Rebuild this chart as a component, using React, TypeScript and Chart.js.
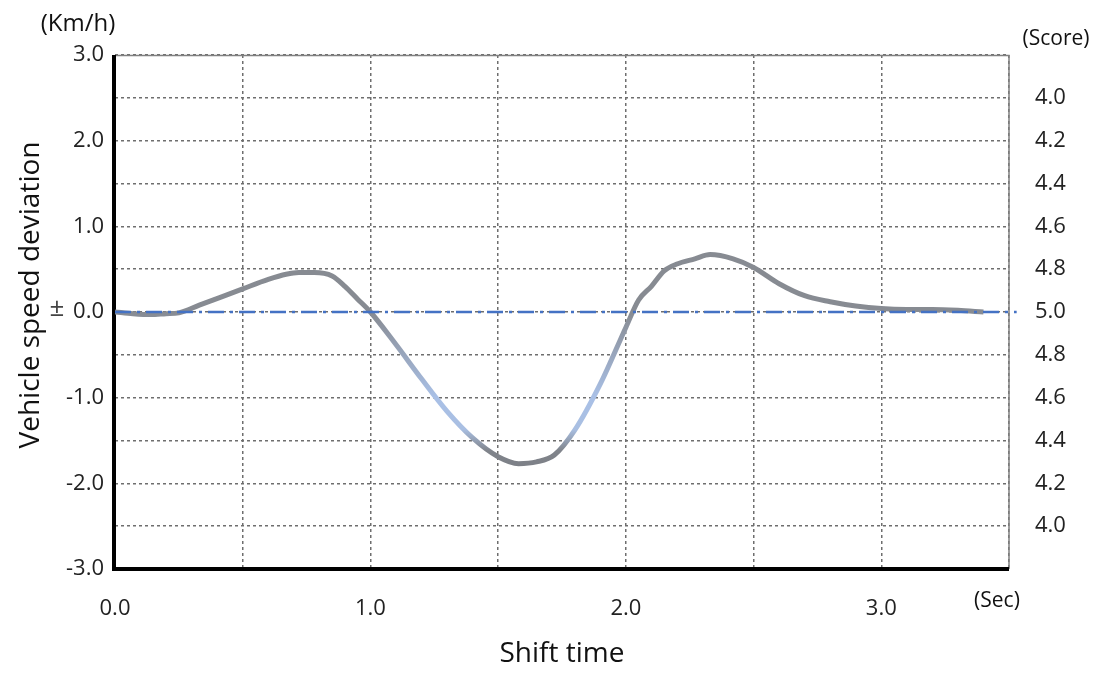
import React, { useEffect, useRef } from "react";
import { Chart, registerables } from "chart.js";

Chart.register(...registerables);

// Shift time (sec) and vehicle speed deviation (km/h)
const timeSec = [0.0, 0.07, 0.14, 0.2, 0.25, 0.33, 0.42, 0.5, 0.6, 0.67, 0.72, 0.78, 0.85, 0.9, 0.95, 1.0, 1.1, 1.2, 1.3, 1.4, 1.5, 1.58, 1.65, 1.72, 1.8, 1.9, 2.0, 2.05, 2.1, 2.15, 2.2, 2.27, 2.33, 2.42, 2.5, 2.6, 2.7, 2.8, 2.9, 3.0, 3.1, 3.2, 3.3, 3.4];
const speedDev = [0.0, -0.02, -0.03, -0.02, -0.01, 0.08, 0.18, 0.27, 0.38, 0.44, 0.46, 0.46, 0.42, 0.3, 0.15, 0.0, -0.38, -0.78, -1.16, -1.47, -1.69, -1.77, -1.75, -1.67, -1.38, -0.84, -0.18, 0.14, 0.3, 0.48, 0.56, 0.62, 0.67, 0.62, 0.52, 0.33, 0.19, 0.12, 0.07, 0.04, 0.03, 0.03, 0.02, 0.0];

const zeroLineX = [0, 3.53];
const zeroLineY = [0, 0];

const xTickLabels = ["0.0", "1.0", "2.0", "3.0"];
const yLeftLabels = ["-3.0", "-2.0", "-1.0", "0.0", "1.0", "2.0", "3.0"];
const scoreLabels = ["4.0", "4.2", "4.4", "4.6", "4.8", "5.0"];

const FONT = "'Open Sans', 'Noto Sans', sans-serif";

const framePlugin = {
  id: "framePlugin",
  beforeDatasetsDraw(chart: any) {
    const { ctx, chartArea } = chart;
    const { left, right, top, bottom } = chartArea;
    ctx.save();
    ctx.setLineDash([]);
    ctx.strokeStyle = "#808080";
    ctx.lineWidth = 1.5;
    ctx.beginPath();
    ctx.moveTo(left, top + 0.5);
    ctx.lineTo(right, top + 0.5);
    ctx.lineTo(right, bottom);
    ctx.stroke();
    ctx.strokeStyle = "#000";
    ctx.lineWidth = 4;
    ctx.beginPath();
    ctx.moveTo(left - 1, top);
    ctx.lineTo(left - 1, bottom);
    ctx.lineTo(right, bottom);
    ctx.stroke();
    ctx.restore();
  },
  afterDraw(chart: any) {
    const { ctx, scales } = chart;
    ctx.save();
    ctx.fillStyle = "#111";
    ctx.textAlign = "center";
    ctx.textBaseline = "middle";
    ctx.font = `24px ${FONT}`;
    ctx.fillText("(Km/h)", 78, 24);
    ctx.font = `21px ${FONT}`;
    ctx.fillText("(Score)", 1056, 39);
    ctx.fillText("(Sec)", 997, 601);
    ctx.fillStyle = "#444";
    ctx.font = `26px ${FONT}`;
    ctx.fillText("\u00b1", 57, scales.y.getPixelForValue(0) - 3);
    ctx.fillStyle = "#111";
    ctx.font = `28px ${FONT}`;
    ctx.translate(31, 295);
    ctx.rotate(-Math.PI / 2);
    ctx.fillText("Vehicle speed deviation", 0, 0);
    ctx.restore();
  },
};

function fmt(v: number) {
  return (Math.round(v * 10) / 10).toFixed(1);
}

export default function App() {
  const ref = useRef<HTMLCanvasElement>(null);
  useEffect(() => {
    if (!ref.current) return;
    const curve = timeSec.map((t, i) => ({ x: t, y: speedDev[i] }));
    const zero = zeroLineX.map((t, i) => ({ x: t, y: zeroLineY[i] }));
    const gridCommon = {
      color: "#6e6e6e",
      lineWidth: 1.5,
      drawTicks: false,
    };
    const chart = new Chart(ref.current, {
      type: "line",
      data: {
        datasets: [
          {
            data: zero,
            borderColor: "#4472c4",
            borderWidth: 2.5,
            borderDash: [16, 6, 3, 6],
            pointRadius: 0,
            clip: { left: 0, right: 10, top: 0, bottom: 0 } as any,
          },
          {
            data: curve,
            borderWidth: 5,
            pointRadius: 0,
            cubicInterpolationMode: "monotone",
            borderColor: (c: any) => {
              const chart = c.chart;
              const { chartArea, scales } = chart;
              if (!chartArea) return "#8a8d93";
              const y0 = scales.y.getPixelForValue(0);
              const y1 = scales.y.getPixelForValue(-1.8);
              const g = chart.ctx.createLinearGradient(0, y0, 0, y1);
              g.addColorStop(0, "#878b92");
              g.addColorStop(0.3, "#9aa8c0");
              g.addColorStop(0.55, "#a9c0e6");
              g.addColorStop(0.76, "#a9bfe2");
              g.addColorStop(0.9, "#80848b");
              g.addColorStop(1, "#7d8087");
              return g;
            },
          },
        ],
      },
      options: {
        responsive: false,
        animation: false,
        plugins: { legend: { display: false }, tooltip: { enabled: false } },
        layout: { padding: { left: 0, right: 0, top: 55, bottom: 0 } },
        scales: {
          x: {
            type: "linear",
            min: 0,
            max: 3.5,
            border: { display: false, dash: [3, 3] },
            grid: gridCommon as any,
            ticks: {
              stepSize: 0.5,
              padding: 27,
              color: "#222",
              font: { family: FONT, size: 22 },
              maxRotation: 0,
              autoSkip: false,
              callback: (v: any) => {
                const idx = Math.round(Number(v));
                return Math.abs(Number(v) - idx) < 1e-6 && idx < xTickLabels.length ? xTickLabels[idx] : "";
              },
            },
            title: {
              display: true,
              text: "Shift time",
              color: "#111",
              font: { family: FONT, size: 28 },
              padding: { top: 0, bottom: 2 },
            },
            afterFit: (s: any) => {
              s.height = 104;
            },
          },
          y: {
            type: "linear",
            position: "left",
            min: -3,
            max: 3,
            border: { display: false, dash: [3, 3] },
            grid: gridCommon as any,
            ticks: {
              stepSize: 0.5,
              padding: 11,
              color: "#222",
              font: { family: FONT, size: 22 },
              autoSkip: false,
              callback: (v: any) => {
                const n = Number(v);
                if (Math.abs(n - Math.round(n)) > 1e-6) return "";
                const s = fmt(n);
                return yLeftLabels.includes(s) ? s : "";
              },
            },
            afterFit: (s: any) => {
              s.width = 115;
            },
          },
          y2: {
            type: "linear",
            position: "right",
            min: -3,
            max: 3,
            border: { display: false },
            grid: { display: false },
            ticks: {
              stepSize: 0.5,
              padding: 18,
              color: "#222",
              font: { family: FONT, size: 22 },
              autoSkip: false,
              callback: (v: any) => {
                const n = Math.abs(Number(v));
                if (n > 2.6) return "";
                const s = fmt(5 - 0.4 * n);
                return scoreLabels.includes(s) ? s : "";
              },
            },
            afterFit: (s: any) => {
              s.width = 95;
            },
          },
        },
      },
      plugins: [framePlugin],
    });
    return () => chart.destroy();
  }, []);
  return (
    <div style={{ position: "absolute", left: 0, top: 0, width: 1104, height: 673, background: "#fff" }}>
      <canvas ref={ref} width={1104} height={673} style={{ width: 1104, height: 673 }} />
    </div>
  );
}
